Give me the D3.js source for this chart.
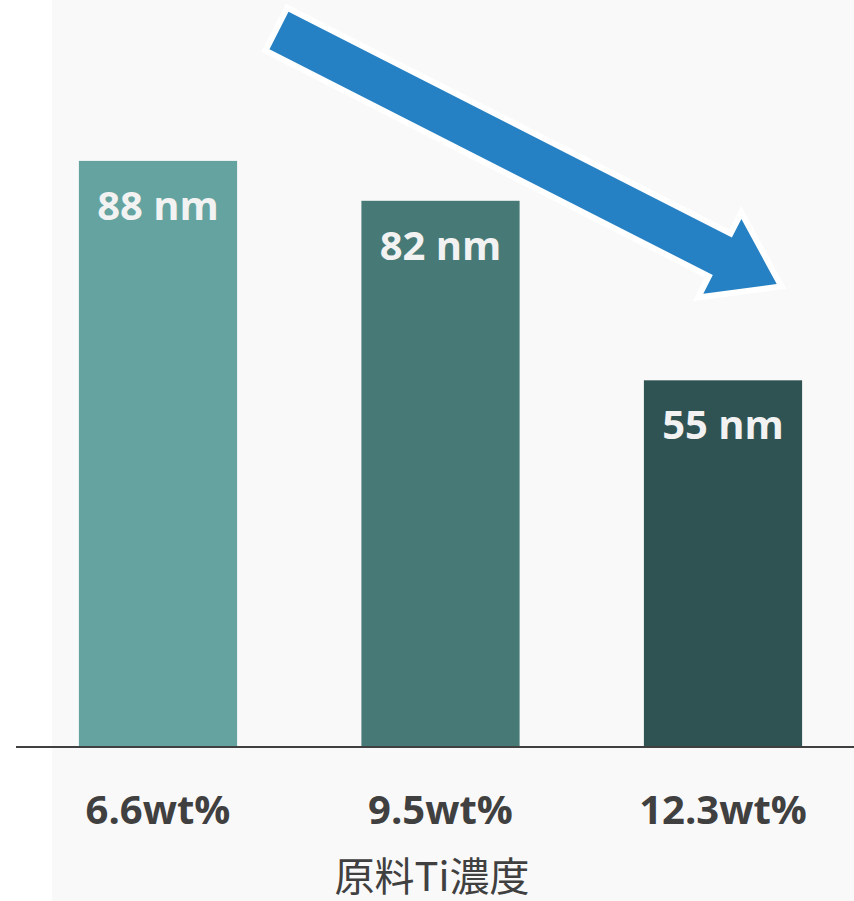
<!DOCTYPE html>
<html>
<head>
<meta charset="utf-8">
<script src="https://cdn.jsdelivr.net/npm/d3@7"></script>
<style>
  html, body { margin: 0; padding: 0; background: #ffffff; }
  svg { display: block; }
</style>
</head>
<body>
<svg id="chart" width="854" height="901"></svg>
<script>
// Ti concentration in the raw material vs. resulting particle size
const categories = ["6.6wt%", "9.5wt%", "12.3wt%"];
const sizes = [88, 82, 55];
const valueLabels = ["88 nm", "82 nm", "55 nm"];
const barColors = ["#64a39f", "#477a76", "#2f5352"];
const axisTitle = "原料Ti濃度";

const W = 854, H = 901;
const baseY = 746;

const svg = d3.select("#chart");

// plot backdrop
svg.append("rect")
  .attr("x", 52).attr("y", 0)
  .attr("width", W - 52).attr("height", H)
  .attr("fill", "#f9f9f9");

const x = d3.scaleBand()
  .domain(categories)
  .range([16.75, 864.25])
  .paddingInner(0.44)
  .paddingOuter(0.22);

const y = d3.scaleLinear()
  .domain([0, 112.2])
  .range([baseY, 0]);

// bars
svg.append("g").selectAll("rect")
  .data(categories)
  .join("rect")
  .attr("x", d => x(d))
  .attr("y", (d, i) => y(sizes[i]))
  .attr("width", x.bandwidth())
  .attr("height", (d, i) => baseY - y(sizes[i]))
  .attr("fill", (d, i) => barColors[i]);

// value labels inside bars
svg.append("g").selectAll("text")
  .data(categories)
  .join("text")
  .attr("x", d => x(d) + x.bandwidth() / 2)
  .attr("y", (d, i) => y(sizes[i]) + 59)
  .attr("text-anchor", "middle")
  .attr("font-family", "'Open Sans', 'Noto Sans', sans-serif")
  .attr("font-weight", 700)
  .attr("font-size", 40)
  .attr("fill", "#f2f2f2")
  .text((d, i) => valueLabels[i]);

// baseline
svg.append("line")
  .attr("x1", 16).attr("x2", W)
  .attr("y1", baseY + 1).attr("y2", baseY + 1)
  .attr("stroke", "#404040")
  .attr("stroke-width", 2);

// category labels
svg.append("g").selectAll("text")
  .data(categories)
  .join("text")
  .attr("x", d => x(d) + x.bandwidth() / 2)
  .attr("y", 824)
  .attr("text-anchor", "middle")
  .attr("font-family", "'Open Sans', 'Noto Sans', sans-serif")
  .attr("font-weight", 700)
  .attr("font-size", 40)
  .attr("fill", "#404040")
  .text(d => d);

// axis title
svg.append("text")
  .attr("x", 432)
  .attr("y", 891)
  .attr("text-anchor", "middle")
  .attr("font-family", "'Noto Sans CJK JP', 'Noto Sans', sans-serif")
  .attr("font-size", 40)
  .attr("fill", "#404040")
  .text(axisTitle);

// downward trend arrow
const tail = [279, 30.5], tip = [776.7, 284];
const len = Math.hypot(tip[0] - tail[0], tip[1] - tail[1]);
const ang = Math.atan2(tip[1] - tail[1], tip[0] - tail[0]) * 180 / Math.PI;
const sw = 21, hw = 42, hl = 61;
const arrow = d3.path();
arrow.moveTo(0, -sw);
arrow.lineTo(len - hl, -sw);
arrow.lineTo(len - hl, -hw);
arrow.lineTo(len, 0);
arrow.lineTo(len - hl, hw);
arrow.lineTo(len - hl, sw);
arrow.lineTo(0, sw);
arrow.closePath();

svg.append("path")
  .attr("d", arrow.toString())
  .attr("transform", `translate(${tail[0]},${tail[1]}) rotate(${ang})`)
  .attr("fill", "#2581c4")
  .attr("stroke", "#ffffff")
  .attr("stroke-width", 12)
  .attr("stroke-linejoin", "miter")
  .attr("paint-order", "stroke");
</script>
</body>
</html>
